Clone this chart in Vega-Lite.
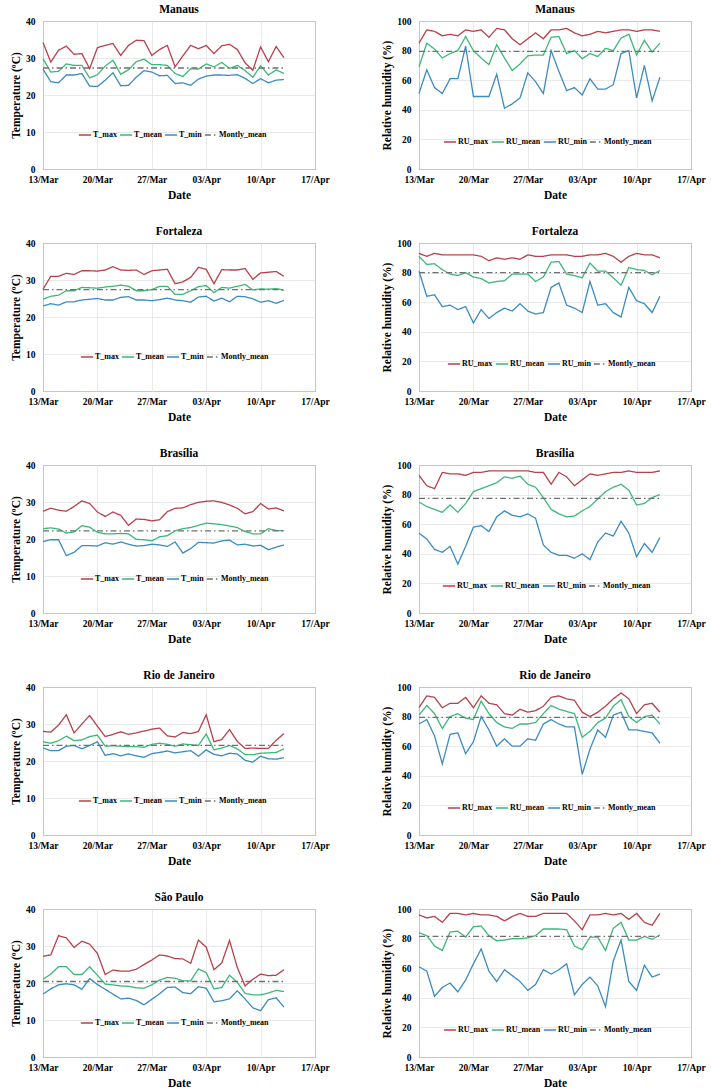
{
"$schema":"https://vega.github.io/schema/vega-lite/v6.json",
"background":"white",
"padding":{"left":10,"top":3,"right":5,"bottom":0},
"spacing":23,
"resolve":{"scale":{"color":"independent","strokeDash":"independent"}},
"datasets":{
"mT":[
{"d":0,"s":"T_max","y":34.2},{"d":1,"s":"T_max","y":28.9},{"d":2,"s":"T_max","y":32.1},{"d":3,"s":"T_max","y":33.2},{"d":4,"s":"T_max","y":31.0},{"d":5,"s":"T_max","y":31.2},{"d":6,"s":"T_max","y":27.1},{"d":7,"s":"T_max","y":32.8},{"d":8,"s":"T_max","y":33.4},{"d":9,"s":"T_max","y":33.9},{"d":10,"s":"T_max","y":30.7},{"d":11,"s":"T_max","y":33.4},{"d":12,"s":"T_max","y":34.8},{"d":13,"s":"T_max","y":34.7},{"d":14,"s":"T_max","y":30.7},{"d":15,"s":"T_max","y":32.3},{"d":16,"s":"T_max","y":33.4},{"d":17,"s":"T_max","y":27.6},{"d":18,"s":"T_max","y":30.6},{"d":19,"s":"T_max","y":33.4},{"d":20,"s":"T_max","y":32.5},{"d":21,"s":"T_max","y":33.4},{"d":22,"s":"T_max","y":31.2},{"d":23,"s":"T_max","y":33.3},{"d":24,"s":"T_max","y":33.7},{"d":25,"s":"T_max","y":32.3},{"d":26,"s":"T_max","y":28.7},{"d":27,"s":"T_max","y":26.7},{"d":28,"s":"T_max","y":33.0},{"d":29,"s":"T_max","y":29.0},{"d":30,"s":"T_max","y":33.1},{"d":31,"s":"T_max","y":30.1},
{"d":0,"s":"T_mean","y":29.8},{"d":1,"s":"T_mean","y":26.2},{"d":2,"s":"T_mean","y":26.4},{"d":3,"s":"T_mean","y":28.4},{"d":4,"s":"T_mean","y":28.0},{"d":5,"s":"T_mean","y":28.0},{"d":6,"s":"T_mean","y":24.6},{"d":7,"s":"T_mean","y":25.5},{"d":8,"s":"T_mean","y":27.8},{"d":9,"s":"T_mean","y":29.4},{"d":10,"s":"T_mean","y":25.6},{"d":11,"s":"T_mean","y":26.8},{"d":12,"s":"T_mean","y":29.0},{"d":13,"s":"T_mean","y":29.7},{"d":14,"s":"T_mean","y":28.2},{"d":15,"s":"T_mean","y":28.2},{"d":16,"s":"T_mean","y":28.0},{"d":17,"s":"T_mean","y":25.8},{"d":18,"s":"T_mean","y":25.0},{"d":19,"s":"T_mean","y":27.1},{"d":20,"s":"T_mean","y":27.0},{"d":21,"s":"T_mean","y":28.4},{"d":22,"s":"T_mean","y":27.6},{"d":23,"s":"T_mean","y":28.8},{"d":24,"s":"T_mean","y":27.2},{"d":25,"s":"T_mean","y":28.0},{"d":26,"s":"T_mean","y":26.6},{"d":27,"s":"T_mean","y":24.8},{"d":28,"s":"T_mean","y":27.9},{"d":29,"s":"T_mean","y":25.4},{"d":30,"s":"T_mean","y":26.8},{"d":31,"s":"T_mean","y":25.8},
{"d":0,"s":"T_min","y":27.0},{"d":1,"s":"T_min","y":23.6},{"d":2,"s":"T_min","y":23.3},{"d":3,"s":"T_min","y":25.4},{"d":4,"s":"T_min","y":25.4},{"d":5,"s":"T_min","y":25.8},{"d":6,"s":"T_min","y":22.4},{"d":7,"s":"T_min","y":22.3},{"d":8,"s":"T_min","y":24.0},{"d":9,"s":"T_min","y":26.0},{"d":10,"s":"T_min","y":22.5},{"d":11,"s":"T_min","y":22.6},{"d":12,"s":"T_min","y":24.8},{"d":13,"s":"T_min","y":26.6},{"d":14,"s":"T_min","y":26.2},{"d":15,"s":"T_min","y":25.2},{"d":16,"s":"T_min","y":25.3},{"d":17,"s":"T_min","y":23.1},{"d":18,"s":"T_min","y":23.3},{"d":19,"s":"T_min","y":22.6},{"d":20,"s":"T_min","y":24.3},{"d":21,"s":"T_min","y":25.1},{"d":22,"s":"T_min","y":25.4},{"d":23,"s":"T_min","y":25.4},{"d":24,"s":"T_min","y":25.3},{"d":25,"s":"T_min","y":25.5},{"d":26,"s":"T_min","y":24.5},{"d":27,"s":"T_min","y":23.1},{"d":28,"s":"T_min","y":24.4},{"d":29,"s":"T_min","y":23.3},{"d":30,"s":"T_min","y":24.0},{"d":31,"s":"T_min","y":24.2},
{"d":0,"s":"Montly_mean","y":27.3},{"d":31,"s":"Montly_mean","y":27.3}],
"mH":[
{"d":0,"s":"RU_max","y":85},{"d":1,"s":"RU_max","y":94},{"d":2,"s":"RU_max","y":93},{"d":3,"s":"RU_max","y":90},{"d":4,"s":"RU_max","y":91},{"d":5,"s":"RU_max","y":90},{"d":6,"s":"RU_max","y":94},{"d":7,"s":"RU_max","y":93},{"d":8,"s":"RU_max","y":94},{"d":9,"s":"RU_max","y":89},{"d":10,"s":"RU_max","y":95},{"d":11,"s":"RU_max","y":94},{"d":12,"s":"RU_max","y":88},{"d":13,"s":"RU_max","y":84},{"d":14,"s":"RU_max","y":88},{"d":15,"s":"RU_max","y":92},{"d":16,"s":"RU_max","y":88},{"d":17,"s":"RU_max","y":94},{"d":18,"s":"RU_max","y":94},{"d":19,"s":"RU_max","y":95},{"d":20,"s":"RU_max","y":92},{"d":21,"s":"RU_max","y":90},{"d":22,"s":"RU_max","y":91},{"d":23,"s":"RU_max","y":93},{"d":24,"s":"RU_max","y":92},{"d":25,"s":"RU_max","y":93},{"d":26,"s":"RU_max","y":94},{"d":27,"s":"RU_max","y":94},{"d":28,"s":"RU_max","y":93},{"d":29,"s":"RU_max","y":94},{"d":30,"s":"RU_max","y":94},{"d":31,"s":"RU_max","y":93},
{"d":0,"s":"RU_mean","y":69},{"d":1,"s":"RU_mean","y":85},{"d":2,"s":"RU_mean","y":81},{"d":3,"s":"RU_mean","y":75},{"d":4,"s":"RU_mean","y":78},{"d":5,"s":"RU_mean","y":80},{"d":6,"s":"RU_mean","y":89.5},{"d":7,"s":"RU_mean","y":80},{"d":8,"s":"RU_mean","y":75},{"d":9,"s":"RU_mean","y":70.5},{"d":10,"s":"RU_mean","y":84},{"d":11,"s":"RU_mean","y":75},{"d":12,"s":"RU_mean","y":66.5},{"d":13,"s":"RU_mean","y":71},{"d":14,"s":"RU_mean","y":76.5},{"d":15,"s":"RU_mean","y":77},{"d":16,"s":"RU_mean","y":77},{"d":17,"s":"RU_mean","y":89},{"d":18,"s":"RU_mean","y":89.5},{"d":19,"s":"RU_mean","y":78},{"d":20,"s":"RU_mean","y":80},{"d":21,"s":"RU_mean","y":74.5},{"d":22,"s":"RU_mean","y":78},{"d":23,"s":"RU_mean","y":76},{"d":24,"s":"RU_mean","y":81.5},{"d":25,"s":"RU_mean","y":80},{"d":26,"s":"RU_mean","y":88.5},{"d":27,"s":"RU_mean","y":91},{"d":28,"s":"RU_mean","y":77},{"d":29,"s":"RU_mean","y":87},{"d":30,"s":"RU_mean","y":79},{"d":31,"s":"RU_mean","y":85},
{"d":0,"s":"RU_min","y":51},{"d":1,"s":"RU_min","y":67},{"d":2,"s":"RU_min","y":55},{"d":3,"s":"RU_min","y":51},{"d":4,"s":"RU_min","y":61},{"d":5,"s":"RU_min","y":61},{"d":6,"s":"RU_min","y":83},{"d":7,"s":"RU_min","y":49},{"d":8,"s":"RU_min","y":49},{"d":9,"s":"RU_min","y":49},{"d":10,"s":"RU_min","y":64},{"d":11,"s":"RU_min","y":41},{"d":12,"s":"RU_min","y":44},{"d":13,"s":"RU_min","y":48},{"d":14,"s":"RU_min","y":65},{"d":15,"s":"RU_min","y":59},{"d":16,"s":"RU_min","y":51},{"d":17,"s":"RU_min","y":80},{"d":18,"s":"RU_min","y":66},{"d":19,"s":"RU_min","y":53},{"d":20,"s":"RU_min","y":55},{"d":21,"s":"RU_min","y":50},{"d":22,"s":"RU_min","y":61},{"d":23,"s":"RU_min","y":54},{"d":24,"s":"RU_min","y":54},{"d":25,"s":"RU_min","y":57},{"d":26,"s":"RU_min","y":78},{"d":27,"s":"RU_min","y":80},{"d":28,"s":"RU_min","y":48},{"d":29,"s":"RU_min","y":70},{"d":30,"s":"RU_min","y":46},{"d":31,"s":"RU_min","y":62},
{"d":0,"s":"Montly_mean","y":79.5},{"d":31,"s":"Montly_mean","y":79.5}],
"fT":[
{"d":0,"s":"T_max","y":27.5},{"d":1,"s":"T_max","y":31.0},{"d":2,"s":"T_max","y":31.0},{"d":3,"s":"T_max","y":31.8},{"d":4,"s":"T_max","y":31.5},{"d":5,"s":"T_max","y":32.5},{"d":6,"s":"T_max","y":32.5},{"d":7,"s":"T_max","y":32.4},{"d":8,"s":"T_max","y":32.7},{"d":9,"s":"T_max","y":33.6},{"d":10,"s":"T_max","y":32.7},{"d":11,"s":"T_max","y":32.6},{"d":12,"s":"T_max","y":32.7},{"d":13,"s":"T_max","y":31.5},{"d":14,"s":"T_max","y":32.5},{"d":15,"s":"T_max","y":32.7},{"d":16,"s":"T_max","y":32.9},{"d":17,"s":"T_max","y":29.0},{"d":18,"s":"T_max","y":29.5},{"d":19,"s":"T_max","y":30.7},{"d":20,"s":"T_max","y":33.4},{"d":21,"s":"T_max","y":32.9},{"d":22,"s":"T_max","y":29.0},{"d":23,"s":"T_max","y":32.8},{"d":24,"s":"T_max","y":32.7},{"d":25,"s":"T_max","y":32.7},{"d":26,"s":"T_max","y":33.1},{"d":27,"s":"T_max","y":30.2},{"d":28,"s":"T_max","y":31.9},{"d":29,"s":"T_max","y":32.1},{"d":30,"s":"T_max","y":32.3},{"d":31,"s":"T_max","y":31.0},
{"d":0,"s":"T_mean","y":24.8},{"d":1,"s":"T_mean","y":25.6},{"d":2,"s":"T_mean","y":25.9},{"d":3,"s":"T_mean","y":27.1},{"d":4,"s":"T_mean","y":27.1},{"d":5,"s":"T_mean","y":28.0},{"d":6,"s":"T_mean","y":27.9},{"d":7,"s":"T_mean","y":27.8},{"d":8,"s":"T_mean","y":28.1},{"d":9,"s":"T_mean","y":28.3},{"d":10,"s":"T_mean","y":28.6},{"d":11,"s":"T_mean","y":28.3},{"d":12,"s":"T_mean","y":27.1},{"d":13,"s":"T_mean","y":27.1},{"d":14,"s":"T_mean","y":27.4},{"d":15,"s":"T_mean","y":28.3},{"d":16,"s":"T_mean","y":28.3},{"d":17,"s":"T_mean","y":26.1},{"d":18,"s":"T_mean","y":26.1},{"d":19,"s":"T_mean","y":27.1},{"d":20,"s":"T_mean","y":28.2},{"d":21,"s":"T_mean","y":28.5},{"d":22,"s":"T_mean","y":26.6},{"d":23,"s":"T_mean","y":28.0},{"d":24,"s":"T_mean","y":27.8},{"d":25,"s":"T_mean","y":28.3},{"d":26,"s":"T_mean","y":28.8},{"d":27,"s":"T_mean","y":27.3},{"d":28,"s":"T_mean","y":27.6},{"d":29,"s":"T_mean","y":27.5},{"d":30,"s":"T_mean","y":27.7},{"d":31,"s":"T_mean","y":27.2},
{"d":0,"s":"T_min","y":23.0},{"d":1,"s":"T_min","y":23.6},{"d":2,"s":"T_min","y":23.2},{"d":3,"s":"T_min","y":24.1},{"d":4,"s":"T_min","y":24.1},{"d":5,"s":"T_min","y":24.6},{"d":6,"s":"T_min","y":24.8},{"d":7,"s":"T_min","y":25.0},{"d":8,"s":"T_min","y":24.6},{"d":9,"s":"T_min","y":24.6},{"d":10,"s":"T_min","y":25.3},{"d":11,"s":"T_min","y":25.5},{"d":12,"s":"T_min","y":24.6},{"d":13,"s":"T_min","y":24.6},{"d":14,"s":"T_min","y":24.4},{"d":15,"s":"T_min","y":24.7},{"d":16,"s":"T_min","y":25.1},{"d":17,"s":"T_min","y":24.6},{"d":18,"s":"T_min","y":24.4},{"d":19,"s":"T_min","y":24.0},{"d":20,"s":"T_min","y":25.4},{"d":21,"s":"T_min","y":25.6},{"d":22,"s":"T_min","y":24.3},{"d":23,"s":"T_min","y":25.1},{"d":24,"s":"T_min","y":24.1},{"d":25,"s":"T_min","y":25.6},{"d":26,"s":"T_min","y":25.5},{"d":27,"s":"T_min","y":24.9},{"d":28,"s":"T_min","y":24.0},{"d":29,"s":"T_min","y":24.4},{"d":30,"s":"T_min","y":23.7},{"d":31,"s":"T_min","y":24.5},
{"d":0,"s":"Montly_mean","y":27.4},{"d":31,"s":"Montly_mean","y":27.4}],
"fH":[
{"d":0,"s":"RU_max","y":93},{"d":1,"s":"RU_max","y":91},{"d":2,"s":"RU_max","y":93},{"d":3,"s":"RU_max","y":92},{"d":4,"s":"RU_max","y":92},{"d":5,"s":"RU_max","y":92},{"d":6,"s":"RU_max","y":92},{"d":7,"s":"RU_max","y":92},{"d":8,"s":"RU_max","y":91},{"d":9,"s":"RU_max","y":88},{"d":10,"s":"RU_max","y":90},{"d":11,"s":"RU_max","y":89},{"d":12,"s":"RU_max","y":90},{"d":13,"s":"RU_max","y":89},{"d":14,"s":"RU_max","y":92},{"d":15,"s":"RU_max","y":91},{"d":16,"s":"RU_max","y":91},{"d":17,"s":"RU_max","y":92},{"d":18,"s":"RU_max","y":92},{"d":19,"s":"RU_max","y":92},{"d":20,"s":"RU_max","y":91},{"d":21,"s":"RU_max","y":91},{"d":22,"s":"RU_max","y":92},{"d":23,"s":"RU_max","y":92},{"d":24,"s":"RU_max","y":93},{"d":25,"s":"RU_max","y":91},{"d":26,"s":"RU_max","y":87},{"d":27,"s":"RU_max","y":91},{"d":28,"s":"RU_max","y":93},{"d":29,"s":"RU_max","y":92},{"d":30,"s":"RU_max","y":92},{"d":31,"s":"RU_max","y":90},
{"d":0,"s":"RU_mean","y":91},{"d":1,"s":"RU_mean","y":85.5},{"d":2,"s":"RU_mean","y":86},{"d":3,"s":"RU_mean","y":82},{"d":4,"s":"RU_mean","y":79},{"d":5,"s":"RU_mean","y":78},{"d":6,"s":"RU_mean","y":80},{"d":7,"s":"RU_mean","y":77},{"d":8,"s":"RU_mean","y":76},{"d":9,"s":"RU_mean","y":73},{"d":10,"s":"RU_mean","y":74},{"d":11,"s":"RU_mean","y":74.5},{"d":12,"s":"RU_mean","y":79},{"d":13,"s":"RU_mean","y":79},{"d":14,"s":"RU_mean","y":79},{"d":15,"s":"RU_mean","y":74},{"d":16,"s":"RU_mean","y":77},{"d":17,"s":"RU_mean","y":87},{"d":18,"s":"RU_mean","y":87.5},{"d":19,"s":"RU_mean","y":79},{"d":20,"s":"RU_mean","y":78},{"d":21,"s":"RU_mean","y":76.5},{"d":22,"s":"RU_mean","y":86.5},{"d":23,"s":"RU_mean","y":81},{"d":24,"s":"RU_mean","y":81},{"d":25,"s":"RU_mean","y":76.5},{"d":26,"s":"RU_mean","y":71.5},{"d":27,"s":"RU_mean","y":83.5},{"d":28,"s":"RU_mean","y":82},{"d":29,"s":"RU_mean","y":81.5},{"d":30,"s":"RU_mean","y":78.5},{"d":31,"s":"RU_mean","y":81.5},
{"d":0,"s":"RU_min","y":81},{"d":1,"s":"RU_min","y":64},{"d":2,"s":"RU_min","y":65},{"d":3,"s":"RU_min","y":57},{"d":4,"s":"RU_min","y":58},{"d":5,"s":"RU_min","y":55},{"d":6,"s":"RU_min","y":57},{"d":7,"s":"RU_min","y":46},{"d":8,"s":"RU_min","y":55},{"d":9,"s":"RU_min","y":49},{"d":10,"s":"RU_min","y":53},{"d":11,"s":"RU_min","y":56},{"d":12,"s":"RU_min","y":54},{"d":13,"s":"RU_min","y":59},{"d":14,"s":"RU_min","y":54},{"d":15,"s":"RU_min","y":52},{"d":16,"s":"RU_min","y":53},{"d":17,"s":"RU_min","y":70},{"d":18,"s":"RU_min","y":73},{"d":19,"s":"RU_min","y":58},{"d":20,"s":"RU_min","y":56},{"d":21,"s":"RU_min","y":53},{"d":22,"s":"RU_min","y":74},{"d":23,"s":"RU_min","y":58},{"d":24,"s":"RU_min","y":59},{"d":25,"s":"RU_min","y":53},{"d":26,"s":"RU_min","y":50},{"d":27,"s":"RU_min","y":70},{"d":28,"s":"RU_min","y":61},{"d":29,"s":"RU_min","y":59},{"d":30,"s":"RU_min","y":53},{"d":31,"s":"RU_min","y":64},
{"d":0,"s":"Montly_mean","y":80},{"d":31,"s":"Montly_mean","y":80}],
"bT":[
{"d":0,"s":"T_max","y":27.5},{"d":1,"s":"T_max","y":28.3},{"d":2,"s":"T_max","y":27.8},{"d":3,"s":"T_max","y":27.5},{"d":4,"s":"T_max","y":28.8},{"d":5,"s":"T_max","y":30.3},{"d":6,"s":"T_max","y":29.6},{"d":7,"s":"T_max","y":27.3},{"d":8,"s":"T_max","y":26.1},{"d":9,"s":"T_max","y":27.3},{"d":10,"s":"T_max","y":26.4},{"d":11,"s":"T_max","y":23.7},{"d":12,"s":"T_max","y":25.4},{"d":13,"s":"T_max","y":25.3},{"d":14,"s":"T_max","y":24.9},{"d":15,"s":"T_max","y":25.2},{"d":16,"s":"T_max","y":27.4},{"d":17,"s":"T_max","y":28.3},{"d":18,"s":"T_max","y":28.4},{"d":19,"s":"T_max","y":29.3},{"d":20,"s":"T_max","y":29.9},{"d":21,"s":"T_max","y":30.2},{"d":22,"s":"T_max","y":30.3},{"d":23,"s":"T_max","y":29.9},{"d":24,"s":"T_max","y":29.2},{"d":25,"s":"T_max","y":28.3},{"d":26,"s":"T_max","y":26.8},{"d":27,"s":"T_max","y":27.4},{"d":28,"s":"T_max","y":29.6},{"d":29,"s":"T_max","y":28.1},{"d":30,"s":"T_max","y":28.4},{"d":31,"s":"T_max","y":27.6},
{"d":0,"s":"T_mean","y":22.8},{"d":1,"s":"T_mean","y":23.0},{"d":2,"s":"T_mean","y":22.7},{"d":3,"s":"T_mean","y":21.6},{"d":4,"s":"T_mean","y":21.9},{"d":5,"s":"T_mean","y":23.6},{"d":6,"s":"T_mean","y":23.2},{"d":7,"s":"T_mean","y":21.8},{"d":8,"s":"T_mean","y":21.4},{"d":9,"s":"T_mean","y":21.4},{"d":10,"s":"T_mean","y":21.5},{"d":11,"s":"T_mean","y":21.4},{"d":12,"s":"T_mean","y":19.9},{"d":13,"s":"T_mean","y":19.8},{"d":14,"s":"T_mean","y":19.5},{"d":15,"s":"T_mean","y":20.6},{"d":16,"s":"T_mean","y":20.9},{"d":17,"s":"T_mean","y":22.2},{"d":18,"s":"T_mean","y":22.8},{"d":19,"s":"T_mean","y":23.1},{"d":20,"s":"T_mean","y":23.7},{"d":21,"s":"T_mean","y":24.3},{"d":22,"s":"T_mean","y":24.1},{"d":23,"s":"T_mean","y":23.9},{"d":24,"s":"T_mean","y":23.5},{"d":25,"s":"T_mean","y":23.1},{"d":26,"s":"T_mean","y":22.0},{"d":27,"s":"T_mean","y":21.4},{"d":28,"s":"T_mean","y":21.4},{"d":29,"s":"T_mean","y":22.8},{"d":30,"s":"T_mean","y":22.3},{"d":31,"s":"T_mean","y":22.2},
{"d":0,"s":"T_min","y":19.3},{"d":1,"s":"T_min","y":19.8},{"d":2,"s":"T_min","y":19.8},{"d":3,"s":"T_min","y":15.5},{"d":4,"s":"T_min","y":16.4},{"d":5,"s":"T_min","y":18.2},{"d":6,"s":"T_min","y":18.2},{"d":7,"s":"T_min","y":18.1},{"d":8,"s":"T_min","y":19.0},{"d":9,"s":"T_min","y":18.6},{"d":10,"s":"T_min","y":19.2},{"d":11,"s":"T_min","y":18.6},{"d":12,"s":"T_min","y":18.1},{"d":13,"s":"T_min","y":18.2},{"d":14,"s":"T_min","y":18.6},{"d":15,"s":"T_min","y":18.4},{"d":16,"s":"T_min","y":18.0},{"d":17,"s":"T_min","y":19.2},{"d":18,"s":"T_min","y":16.2},{"d":19,"s":"T_min","y":17.4},{"d":20,"s":"T_min","y":19.1},{"d":21,"s":"T_min","y":19.0},{"d":22,"s":"T_min","y":18.9},{"d":23,"s":"T_min","y":19.5},{"d":24,"s":"T_min","y":19.7},{"d":25,"s":"T_min","y":18.4},{"d":26,"s":"T_min","y":18.6},{"d":27,"s":"T_min","y":18.1},{"d":28,"s":"T_min","y":18.3},{"d":29,"s":"T_min","y":17.1},{"d":30,"s":"T_min","y":17.8},{"d":31,"s":"T_min","y":18.4},
{"d":0,"s":"Montly_mean","y":22.2},{"d":31,"s":"Montly_mean","y":22.2}],
"bH":[
{"d":0,"s":"RU_max","y":93},{"d":1,"s":"RU_max","y":86},{"d":2,"s":"RU_max","y":84},{"d":3,"s":"RU_max","y":95},{"d":4,"s":"RU_max","y":94},{"d":5,"s":"RU_max","y":94},{"d":6,"s":"RU_max","y":93},{"d":7,"s":"RU_max","y":95},{"d":8,"s":"RU_max","y":95},{"d":9,"s":"RU_max","y":96},{"d":10,"s":"RU_max","y":96},{"d":11,"s":"RU_max","y":96},{"d":12,"s":"RU_max","y":96},{"d":13,"s":"RU_max","y":96},{"d":14,"s":"RU_max","y":96},{"d":15,"s":"RU_max","y":95},{"d":16,"s":"RU_max","y":95},{"d":17,"s":"RU_max","y":87},{"d":18,"s":"RU_max","y":95},{"d":19,"s":"RU_max","y":92},{"d":20,"s":"RU_max","y":86},{"d":21,"s":"RU_max","y":90},{"d":22,"s":"RU_max","y":94},{"d":23,"s":"RU_max","y":93},{"d":24,"s":"RU_max","y":94},{"d":25,"s":"RU_max","y":95},{"d":26,"s":"RU_max","y":95},{"d":27,"s":"RU_max","y":96},{"d":28,"s":"RU_max","y":95},{"d":29,"s":"RU_max","y":95},{"d":30,"s":"RU_max","y":95},{"d":31,"s":"RU_max","y":96},
{"d":0,"s":"RU_mean","y":75},{"d":1,"s":"RU_mean","y":72},{"d":2,"s":"RU_mean","y":70},{"d":3,"s":"RU_mean","y":68},{"d":4,"s":"RU_mean","y":73},{"d":5,"s":"RU_mean","y":68},{"d":6,"s":"RU_mean","y":74},{"d":7,"s":"RU_mean","y":82},{"d":8,"s":"RU_mean","y":84},{"d":9,"s":"RU_mean","y":86},{"d":10,"s":"RU_mean","y":88},{"d":11,"s":"RU_mean","y":92},{"d":12,"s":"RU_mean","y":91},{"d":13,"s":"RU_mean","y":92.5},{"d":14,"s":"RU_mean","y":87},{"d":15,"s":"RU_mean","y":85},{"d":16,"s":"RU_mean","y":78},{"d":17,"s":"RU_mean","y":70},{"d":18,"s":"RU_mean","y":67},{"d":19,"s":"RU_mean","y":65},{"d":20,"s":"RU_mean","y":65.5},{"d":21,"s":"RU_mean","y":69},{"d":22,"s":"RU_mean","y":72},{"d":23,"s":"RU_mean","y":77},{"d":24,"s":"RU_mean","y":82},{"d":25,"s":"RU_mean","y":85},{"d":26,"s":"RU_mean","y":87},{"d":27,"s":"RU_mean","y":83},{"d":28,"s":"RU_mean","y":73},{"d":29,"s":"RU_mean","y":74},{"d":30,"s":"RU_mean","y":78},{"d":31,"s":"RU_mean","y":80},
{"d":0,"s":"RU_min","y":54},{"d":1,"s":"RU_min","y":50},{"d":2,"s":"RU_min","y":43},{"d":3,"s":"RU_min","y":41},{"d":4,"s":"RU_min","y":45},{"d":5,"s":"RU_min","y":33},{"d":6,"s":"RU_min","y":45},{"d":7,"s":"RU_min","y":58},{"d":8,"s":"RU_min","y":59},{"d":9,"s":"RU_min","y":55},{"d":10,"s":"RU_min","y":65},{"d":11,"s":"RU_min","y":69},{"d":12,"s":"RU_min","y":66},{"d":13,"s":"RU_min","y":65},{"d":14,"s":"RU_min","y":67},{"d":15,"s":"RU_min","y":64},{"d":16,"s":"RU_min","y":46},{"d":17,"s":"RU_min","y":41},{"d":18,"s":"RU_min","y":39},{"d":19,"s":"RU_min","y":39},{"d":20,"s":"RU_min","y":37},{"d":21,"s":"RU_min","y":40},{"d":22,"s":"RU_min","y":36},{"d":23,"s":"RU_min","y":48},{"d":24,"s":"RU_min","y":54},{"d":25,"s":"RU_min","y":52},{"d":26,"s":"RU_min","y":62},{"d":27,"s":"RU_min","y":54},{"d":28,"s":"RU_min","y":38},{"d":29,"s":"RU_min","y":47},{"d":30,"s":"RU_min","y":41},{"d":31,"s":"RU_min","y":51},
{"d":0,"s":"Montly_mean","y":77.5},{"d":31,"s":"Montly_mean","y":77.5}],
"rT":[
{"d":0,"s":"T_max","y":28.0},{"d":1,"s":"T_max","y":27.8},{"d":2,"s":"T_max","y":29.7},{"d":3,"s":"T_max","y":32.5},{"d":4,"s":"T_max","y":27.6},{"d":5,"s":"T_max","y":30.0},{"d":6,"s":"T_max","y":32.3},{"d":7,"s":"T_max","y":29.4},{"d":8,"s":"T_max","y":26.6},{"d":9,"s":"T_max","y":27.2},{"d":10,"s":"T_max","y":27.9},{"d":11,"s":"T_max","y":27.2},{"d":12,"s":"T_max","y":27.6},{"d":13,"s":"T_max","y":28.1},{"d":14,"s":"T_max","y":28.6},{"d":15,"s":"T_max","y":28.9},{"d":16,"s":"T_max","y":26.8},{"d":17,"s":"T_max","y":26.5},{"d":18,"s":"T_max","y":27.7},{"d":19,"s":"T_max","y":27.4},{"d":20,"s":"T_max","y":28.0},{"d":21,"s":"T_max","y":32.5},{"d":22,"s":"T_max","y":25.2},{"d":23,"s":"T_max","y":25.8},{"d":24,"s":"T_max","y":28.5},{"d":25,"s":"T_max","y":25.3},{"d":26,"s":"T_max","y":23.4},{"d":27,"s":"T_max","y":23.5},{"d":28,"s":"T_max","y":23.4},{"d":29,"s":"T_max","y":23.4},{"d":30,"s":"T_max","y":25.6},{"d":31,"s":"T_max","y":27.4},
{"d":0,"s":"T_mean","y":25.2},{"d":1,"s":"T_mean","y":24.8},{"d":2,"s":"T_mean","y":25.5},{"d":3,"s":"T_mean","y":26.7},{"d":4,"s":"T_mean","y":25.5},{"d":5,"s":"T_mean","y":25.7},{"d":6,"s":"T_mean","y":26.6},{"d":7,"s":"T_mean","y":27.0},{"d":8,"s":"T_mean","y":24.0},{"d":9,"s":"T_mean","y":24.1},{"d":10,"s":"T_mean","y":24.0},{"d":11,"s":"T_mean","y":23.9},{"d":12,"s":"T_mean","y":23.9},{"d":13,"s":"T_mean","y":23.7},{"d":14,"s":"T_mean","y":24.5},{"d":15,"s":"T_mean","y":24.8},{"d":16,"s":"T_mean","y":24.5},{"d":17,"s":"T_mean","y":24.0},{"d":18,"s":"T_mean","y":24.6},{"d":19,"s":"T_mean","y":24.4},{"d":20,"s":"T_mean","y":24.2},{"d":21,"s":"T_mean","y":27.3},{"d":22,"s":"T_mean","y":23.0},{"d":23,"s":"T_mean","y":23.5},{"d":24,"s":"T_mean","y":24.2},{"d":25,"s":"T_mean","y":23.3},{"d":26,"s":"T_mean","y":21.7},{"d":27,"s":"T_mean","y":21.7},{"d":28,"s":"T_mean","y":22.1},{"d":29,"s":"T_mean","y":22.2},{"d":30,"s":"T_mean","y":22.3},{"d":31,"s":"T_mean","y":23.3},
{"d":0,"s":"T_min","y":23.5},{"d":1,"s":"T_min","y":22.8},{"d":2,"s":"T_min","y":22.8},{"d":3,"s":"T_min","y":24.0},{"d":4,"s":"T_min","y":24.2},{"d":5,"s":"T_min","y":23.3},{"d":6,"s":"T_min","y":24.2},{"d":7,"s":"T_min","y":25.2},{"d":8,"s":"T_min","y":21.5},{"d":9,"s":"T_min","y":22.0},{"d":10,"s":"T_min","y":21.4},{"d":11,"s":"T_min","y":21.9},{"d":12,"s":"T_min","y":21.4},{"d":13,"s":"T_min","y":21.0},{"d":14,"s":"T_min","y":22.0},{"d":15,"s":"T_min","y":22.3},{"d":16,"s":"T_min","y":22.7},{"d":17,"s":"T_min","y":22.2},{"d":18,"s":"T_min","y":22.5},{"d":19,"s":"T_min","y":22.8},{"d":20,"s":"T_min","y":21.3},{"d":21,"s":"T_min","y":23.0},{"d":22,"s":"T_min","y":21.8},{"d":23,"s":"T_min","y":21.4},{"d":24,"s":"T_min","y":22.1},{"d":25,"s":"T_min","y":21.9},{"d":26,"s":"T_min","y":20.2},{"d":27,"s":"T_min","y":19.7},{"d":28,"s":"T_min","y":21.3},{"d":29,"s":"T_min","y":20.6},{"d":30,"s":"T_min","y":20.5},{"d":31,"s":"T_min","y":20.9},
{"d":0,"s":"Montly_mean","y":24.2},{"d":31,"s":"Montly_mean","y":24.2}],
"rH":[
{"d":0,"s":"RU_max","y":86},{"d":1,"s":"RU_max","y":94},{"d":2,"s":"RU_max","y":93},{"d":3,"s":"RU_max","y":86},{"d":4,"s":"RU_max","y":89},{"d":5,"s":"RU_max","y":89},{"d":6,"s":"RU_max","y":93},{"d":7,"s":"RU_max","y":86},{"d":8,"s":"RU_max","y":94},{"d":9,"s":"RU_max","y":89},{"d":10,"s":"RU_max","y":88},{"d":11,"s":"RU_max","y":82},{"d":12,"s":"RU_max","y":81},{"d":13,"s":"RU_max","y":85},{"d":14,"s":"RU_max","y":83},{"d":15,"s":"RU_max","y":84},{"d":16,"s":"RU_max","y":87},{"d":17,"s":"RU_max","y":93},{"d":18,"s":"RU_max","y":94},{"d":19,"s":"RU_max","y":92},{"d":20,"s":"RU_max","y":91},{"d":21,"s":"RU_max","y":83},{"d":22,"s":"RU_max","y":80},{"d":23,"s":"RU_max","y":83},{"d":24,"s":"RU_max","y":87},{"d":25,"s":"RU_max","y":92},{"d":26,"s":"RU_max","y":96},{"d":27,"s":"RU_max","y":92},{"d":28,"s":"RU_max","y":82},{"d":29,"s":"RU_max","y":88},{"d":30,"s":"RU_max","y":89},{"d":31,"s":"RU_max","y":83},
{"d":0,"s":"RU_mean","y":81},{"d":1,"s":"RU_mean","y":87.5},{"d":2,"s":"RU_mean","y":82},{"d":3,"s":"RU_mean","y":72},{"d":4,"s":"RU_mean","y":80},{"d":5,"s":"RU_mean","y":82},{"d":6,"s":"RU_mean","y":79},{"d":7,"s":"RU_mean","y":78},{"d":8,"s":"RU_mean","y":90.5},{"d":9,"s":"RU_mean","y":82},{"d":10,"s":"RU_mean","y":76},{"d":11,"s":"RU_mean","y":73},{"d":12,"s":"RU_mean","y":72},{"d":13,"s":"RU_mean","y":75},{"d":14,"s":"RU_mean","y":75},{"d":15,"s":"RU_mean","y":76},{"d":16,"s":"RU_mean","y":82},{"d":17,"s":"RU_mean","y":87.5},{"d":18,"s":"RU_mean","y":85},{"d":19,"s":"RU_mean","y":83.5},{"d":20,"s":"RU_mean","y":82},{"d":21,"s":"RU_mean","y":66},{"d":22,"s":"RU_mean","y":70},{"d":23,"s":"RU_mean","y":76},{"d":24,"s":"RU_mean","y":79},{"d":25,"s":"RU_mean","y":87},{"d":26,"s":"RU_mean","y":91.5},{"d":27,"s":"RU_mean","y":80},{"d":28,"s":"RU_mean","y":76},{"d":29,"s":"RU_mean","y":80},{"d":30,"s":"RU_mean","y":81},{"d":31,"s":"RU_mean","y":75},
{"d":0,"s":"RU_min","y":75},{"d":1,"s":"RU_min","y":78},{"d":2,"s":"RU_min","y":67},{"d":3,"s":"RU_min","y":48},{"d":4,"s":"RU_min","y":68},{"d":5,"s":"RU_min","y":69},{"d":6,"s":"RU_min","y":55},{"d":7,"s":"RU_min","y":63},{"d":8,"s":"RU_min","y":80},{"d":9,"s":"RU_min","y":71},{"d":10,"s":"RU_min","y":60},{"d":11,"s":"RU_min","y":65},{"d":12,"s":"RU_min","y":60},{"d":13,"s":"RU_min","y":60},{"d":14,"s":"RU_min","y":65},{"d":15,"s":"RU_min","y":64},{"d":16,"s":"RU_min","y":75},{"d":17,"s":"RU_min","y":78},{"d":18,"s":"RU_min","y":75},{"d":19,"s":"RU_min","y":73},{"d":20,"s":"RU_min","y":73},{"d":21,"s":"RU_min","y":41},{"d":22,"s":"RU_min","y":58},{"d":23,"s":"RU_min","y":71},{"d":24,"s":"RU_min","y":66},{"d":25,"s":"RU_min","y":81},{"d":26,"s":"RU_min","y":83},{"d":27,"s":"RU_min","y":71},{"d":28,"s":"RU_min","y":71},{"d":29,"s":"RU_min","y":70},{"d":30,"s":"RU_min","y":69},{"d":31,"s":"RU_min","y":62},
{"d":0,"s":"Montly_mean","y":79.5},{"d":31,"s":"Montly_mean","y":79.5}],
"sT":[
{"d":0,"s":"T_max","y":27.2},{"d":1,"s":"T_max","y":27.6},{"d":2,"s":"T_max","y":32.8},{"d":3,"s":"T_max","y":32.2},{"d":4,"s":"T_max","y":29.6},{"d":5,"s":"T_max","y":31.3},{"d":6,"s":"T_max","y":30.5},{"d":7,"s":"T_max","y":28.0},{"d":8,"s":"T_max","y":22.3},{"d":9,"s":"T_max","y":23.5},{"d":10,"s":"T_max","y":23.2},{"d":11,"s":"T_max","y":23.2},{"d":12,"s":"T_max","y":23.7},{"d":13,"s":"T_max","y":25.0},{"d":14,"s":"T_max","y":26.2},{"d":15,"s":"T_max","y":27.6},{"d":16,"s":"T_max","y":27.3},{"d":17,"s":"T_max","y":26.6},{"d":18,"s":"T_max","y":26.5},{"d":19,"s":"T_max","y":25.3},{"d":20,"s":"T_max","y":31.6},{"d":21,"s":"T_max","y":29.7},{"d":22,"s":"T_max","y":23.6},{"d":23,"s":"T_max","y":25.4},{"d":24,"s":"T_max","y":31.5},{"d":25,"s":"T_max","y":24.2},{"d":26,"s":"T_max","y":19.2},{"d":27,"s":"T_max","y":21.0},{"d":28,"s":"T_max","y":22.4},{"d":29,"s":"T_max","y":22.0},{"d":30,"s":"T_max","y":22.1},{"d":31,"s":"T_max","y":23.6},
{"d":0,"s":"T_mean","y":21.0},{"d":1,"s":"T_mean","y":22.4},{"d":2,"s":"T_mean","y":24.4},{"d":3,"s":"T_mean","y":24.4},{"d":4,"s":"T_mean","y":22.3},{"d":5,"s":"T_mean","y":22.3},{"d":6,"s":"T_mean","y":24.4},{"d":7,"s":"T_mean","y":22.1},{"d":8,"s":"T_mean","y":19.7},{"d":9,"s":"T_mean","y":19.5},{"d":10,"s":"T_mean","y":19.2},{"d":11,"s":"T_mean","y":19.1},{"d":12,"s":"T_mean","y":18.7},{"d":13,"s":"T_mean","y":18.6},{"d":14,"s":"T_mean","y":19.5},{"d":15,"s":"T_mean","y":20.8},{"d":16,"s":"T_mean","y":21.5},{"d":17,"s":"T_mean","y":21.3},{"d":18,"s":"T_mean","y":20.6},{"d":19,"s":"T_mean","y":20.6},{"d":20,"s":"T_mean","y":23.8},{"d":21,"s":"T_mean","y":22.8},{"d":22,"s":"T_mean","y":18.4},{"d":23,"s":"T_mean","y":18.8},{"d":24,"s":"T_mean","y":22.1},{"d":25,"s":"T_mean","y":20.2},{"d":26,"s":"T_mean","y":17.2},{"d":27,"s":"T_mean","y":16.8},{"d":28,"s":"T_mean","y":16.8},{"d":29,"s":"T_mean","y":17.3},{"d":30,"s":"T_mean","y":18.0},{"d":31,"s":"T_mean","y":17.7},
{"d":0,"s":"T_min","y":17.0},{"d":1,"s":"T_min","y":18.4},{"d":2,"s":"T_min","y":19.5},{"d":3,"s":"T_min","y":19.8},{"d":4,"s":"T_min","y":19.5},{"d":5,"s":"T_min","y":18.3},{"d":6,"s":"T_min","y":21.2},{"d":7,"s":"T_min","y":19.6},{"d":8,"s":"T_min","y":18.3},{"d":9,"s":"T_min","y":17.0},{"d":10,"s":"T_min","y":15.7},{"d":11,"s":"T_min","y":15.9},{"d":12,"s":"T_min","y":15.3},{"d":13,"s":"T_min","y":14.1},{"d":14,"s":"T_min","y":15.6},{"d":15,"s":"T_min","y":17.1},{"d":16,"s":"T_min","y":18.8},{"d":17,"s":"T_min","y":18.9},{"d":18,"s":"T_min","y":17.4},{"d":19,"s":"T_min","y":17.1},{"d":20,"s":"T_min","y":19.0},{"d":21,"s":"T_min","y":18.6},{"d":22,"s":"T_min","y":14.9},{"d":23,"s":"T_min","y":15.2},{"d":24,"s":"T_min","y":15.7},{"d":25,"s":"T_min","y":17.9},{"d":26,"s":"T_min","y":15.7},{"d":27,"s":"T_min","y":13.3},{"d":28,"s":"T_min","y":12.5},{"d":29,"s":"T_min","y":15.5},{"d":30,"s":"T_min","y":16.0},{"d":31,"s":"T_min","y":13.5},
{"d":0,"s":"Montly_mean","y":20.4},{"d":31,"s":"Montly_mean","y":20.4}],
"sH":[
{"d":0,"s":"RU_max","y":96},{"d":1,"s":"RU_max","y":94},{"d":2,"s":"RU_max","y":95},{"d":3,"s":"RU_max","y":91},{"d":4,"s":"RU_max","y":97},{"d":5,"s":"RU_max","y":97},{"d":6,"s":"RU_max","y":96},{"d":7,"s":"RU_max","y":97},{"d":8,"s":"RU_max","y":96},{"d":9,"s":"RU_max","y":96},{"d":10,"s":"RU_max","y":95},{"d":11,"s":"RU_max","y":92},{"d":12,"s":"RU_max","y":95},{"d":13,"s":"RU_max","y":97},{"d":14,"s":"RU_max","y":95},{"d":15,"s":"RU_max","y":95},{"d":16,"s":"RU_max","y":97},{"d":17,"s":"RU_max","y":97},{"d":18,"s":"RU_max","y":97},{"d":19,"s":"RU_max","y":97},{"d":20,"s":"RU_max","y":92},{"d":21,"s":"RU_max","y":86},{"d":22,"s":"RU_max","y":96},{"d":23,"s":"RU_max","y":96},{"d":24,"s":"RU_max","y":97},{"d":25,"s":"RU_max","y":96},{"d":26,"s":"RU_max","y":97},{"d":27,"s":"RU_max","y":93},{"d":28,"s":"RU_max","y":97},{"d":29,"s":"RU_max","y":91},{"d":30,"s":"RU_max","y":89},{"d":31,"s":"RU_max","y":97},
{"d":0,"s":"RU_mean","y":84},{"d":1,"s":"RU_mean","y":82},{"d":2,"s":"RU_mean","y":75},{"d":3,"s":"RU_mean","y":72},{"d":4,"s":"RU_mean","y":84.5},{"d":5,"s":"RU_mean","y":85},{"d":6,"s":"RU_mean","y":81},{"d":7,"s":"RU_mean","y":88},{"d":8,"s":"RU_mean","y":88.5},{"d":9,"s":"RU_mean","y":82},{"d":10,"s":"RU_mean","y":78.5},{"d":11,"s":"RU_mean","y":79},{"d":12,"s":"RU_mean","y":80},{"d":13,"s":"RU_mean","y":80},{"d":14,"s":"RU_mean","y":80.5},{"d":15,"s":"RU_mean","y":82},{"d":16,"s":"RU_mean","y":86.5},{"d":17,"s":"RU_mean","y":86.5},{"d":18,"s":"RU_mean","y":86.5},{"d":19,"s":"RU_mean","y":86},{"d":20,"s":"RU_mean","y":75},{"d":21,"s":"RU_mean","y":72.5},{"d":22,"s":"RU_mean","y":81},{"d":23,"s":"RU_mean","y":81},{"d":24,"s":"RU_mean","y":72},{"d":25,"s":"RU_mean","y":87},{"d":26,"s":"RU_mean","y":91},{"d":27,"s":"RU_mean","y":79},{"d":28,"s":"RU_mean","y":79},{"d":29,"s":"RU_mean","y":81.5},{"d":30,"s":"RU_mean","y":79.5},{"d":31,"s":"RU_mean","y":82.5},
{"d":0,"s":"RU_min","y":61},{"d":1,"s":"RU_min","y":58},{"d":2,"s":"RU_min","y":41},{"d":3,"s":"RU_min","y":47},{"d":4,"s":"RU_min","y":50},{"d":5,"s":"RU_min","y":44},{"d":6,"s":"RU_min","y":52},{"d":7,"s":"RU_min","y":63},{"d":8,"s":"RU_min","y":73},{"d":9,"s":"RU_min","y":58},{"d":10,"s":"RU_min","y":51},{"d":11,"s":"RU_min","y":59},{"d":12,"s":"RU_min","y":55},{"d":13,"s":"RU_min","y":51},{"d":14,"s":"RU_min","y":45},{"d":15,"s":"RU_min","y":49},{"d":16,"s":"RU_min","y":59},{"d":17,"s":"RU_min","y":56},{"d":18,"s":"RU_min","y":59},{"d":19,"s":"RU_min","y":63},{"d":20,"s":"RU_min","y":42},{"d":21,"s":"RU_min","y":49},{"d":22,"s":"RU_min","y":54},{"d":23,"s":"RU_min","y":48},{"d":24,"s":"RU_min","y":34},{"d":25,"s":"RU_min","y":65},{"d":26,"s":"RU_min","y":79},{"d":27,"s":"RU_min","y":51},{"d":28,"s":"RU_min","y":45},{"d":29,"s":"RU_min","y":62},{"d":30,"s":"RU_min","y":54},{"d":31,"s":"RU_min","y":56},
{"d":0,"s":"Montly_mean","y":81.5},{"d":31,"s":"Montly_mean","y":81.5}]
},
"vconcat":[
{"hconcat":[
{"width":272,"height":148,"title":"Manaus","data":{"name":"mT"},"mark":{"type":"line"},
"encoding":{"x":{"field":"d","type":"quantitative","scale":{"domain":[0,35]},"axis":{"title":"Date","values":[0,7,14,21,28,35],"labelExpr":"timeFormat(datetime(2020,2,13+datum.value),'%d/%b')"}},
"y":{"field":"y","type":"quantitative","scale":{"domain":[0,40]},"axis":{"title":"Temperature (ºC)","values":[0,10,20,30,40]}},
"color":{"field":"s","type":"nominal","scale":{"domain":["T_max","T_mean","T_min","Montly_mean"],"range":["#b8404a","#3cb77a","#3a8cc0","#6f6f6f"]},"legend":{"title":null,"legendX":35,"legendY":107}},
"strokeDash":{"field":"s","type":"nominal","scale":{"domain":["T_max","T_mean","T_min","Montly_mean"],"range":[[1,0],[1,0],[1,0],[6,3,1.5,3]]},"legend":{"title":null,"legendX":35,"legendY":107}}}},
{"width":272,"height":148,"title":"Manaus","data":{"name":"mH"},"mark":{"type":"line"},
"encoding":{"x":{"field":"d","type":"quantitative","scale":{"domain":[0,35]},"axis":{"title":"Date","values":[0,7,14,21,28,35],"labelExpr":"timeFormat(datetime(2020,2,13+datum.value),'%d/%b')"}},
"y":{"field":"y","type":"quantitative","scale":{"domain":[0,100]},"axis":{"title":"Relative humidity (%)","values":[0,20,40,60,80,100]}},
"color":{"field":"s","type":"nominal","scale":{"domain":["RU_max","RU_mean","RU_min","Montly_mean"],"range":["#b8404a","#3cb77a","#3a8cc0","#6f6f6f"]},"legend":{"title":null,"legendX":24,"legendY":114}},
"strokeDash":{"field":"s","type":"nominal","scale":{"domain":["RU_max","RU_mean","RU_min","Montly_mean"],"range":[[1,0],[1,0],[1,0],[6,3,1.5,3]]},"legend":{"title":null,"legendX":24,"legendY":114}}}}
],"spacing":51,"resolve":{"scale":{"color":"independent","strokeDash":"independent"}}},
{"hconcat":[
{"width":272,"height":148,"title":"Fortaleza","data":{"name":"fT"},"mark":{"type":"line"},
"encoding":{"x":{"field":"d","type":"quantitative","scale":{"domain":[0,35]},"axis":{"title":"Date","values":[0,7,14,21,28,35],"labelExpr":"timeFormat(datetime(2020,2,13+datum.value),'%d/%b')"}},
"y":{"field":"y","type":"quantitative","scale":{"domain":[0,40]},"axis":{"title":"Temperature (ºC)","values":[0,10,20,30,40]}},
"color":{"field":"s","type":"nominal","scale":{"domain":["T_max","T_mean","T_min","Montly_mean"],"range":["#b8404a","#3cb77a","#3a8cc0","#6f6f6f"]},"legend":{"title":null,"legendX":37,"legendY":107}},
"strokeDash":{"field":"s","type":"nominal","scale":{"domain":["T_max","T_mean","T_min","Montly_mean"],"range":[[1,0],[1,0],[1,0],[6,3,1.5,3]]},"legend":{"title":null,"legendX":37,"legendY":107}}}},
{"width":272,"height":148,"title":"Fortaleza","data":{"name":"fH"},"mark":{"type":"line"},
"encoding":{"x":{"field":"d","type":"quantitative","scale":{"domain":[0,35]},"axis":{"title":"Date","values":[0,7,14,21,28,35],"labelExpr":"timeFormat(datetime(2020,2,13+datum.value),'%d/%b')"}},
"y":{"field":"y","type":"quantitative","scale":{"domain":[0,100]},"axis":{"title":"Relative humidity (%)","values":[0,20,40,60,80,100]}},
"color":{"field":"s","type":"nominal","scale":{"domain":["RU_max","RU_mean","RU_min","Montly_mean"],"range":["#b8404a","#3cb77a","#3a8cc0","#6f6f6f"]},"legend":{"title":null,"legendX":28,"legendY":114}},
"strokeDash":{"field":"s","type":"nominal","scale":{"domain":["RU_max","RU_mean","RU_min","Montly_mean"],"range":[[1,0],[1,0],[1,0],[6,3,1.5,3]]},"legend":{"title":null,"legendX":28,"legendY":114}}}}
],"spacing":51,"resolve":{"scale":{"color":"independent","strokeDash":"independent"}}},
{"hconcat":[
{"width":272,"height":148,"title":"Brasília","data":{"name":"bT"},"mark":{"type":"line"},
"encoding":{"x":{"field":"d","type":"quantitative","scale":{"domain":[0,35]},"axis":{"title":"Date","values":[0,7,14,21,28,35],"labelExpr":"timeFormat(datetime(2020,2,13+datum.value),'%d/%b')"}},
"y":{"field":"y","type":"quantitative","scale":{"domain":[0,40]},"axis":{"title":"Temperature (ºC)","values":[0,10,20,30,40]}},
"color":{"field":"s","type":"nominal","scale":{"domain":["T_max","T_mean","T_min","Montly_mean"],"range":["#b8404a","#3cb77a","#3a8cc0","#6f6f6f"]},"legend":{"title":null,"legendX":37,"legendY":107}},
"strokeDash":{"field":"s","type":"nominal","scale":{"domain":["T_max","T_mean","T_min","Montly_mean"],"range":[[1,0],[1,0],[1,0],[6,3,1.5,3]]},"legend":{"title":null,"legendX":37,"legendY":107}}}},
{"width":272,"height":148,"title":"Brasília","data":{"name":"bH"},"mark":{"type":"line"},
"encoding":{"x":{"field":"d","type":"quantitative","scale":{"domain":[0,35]},"axis":{"title":"Date","values":[0,7,14,21,28,35],"labelExpr":"timeFormat(datetime(2020,2,13+datum.value),'%d/%b')"}},
"y":{"field":"y","type":"quantitative","scale":{"domain":[0,100]},"axis":{"title":"Relative humidity (%)","values":[0,20,40,60,80,100]}},
"color":{"field":"s","type":"nominal","scale":{"domain":["RU_max","RU_mean","RU_min","Montly_mean"],"range":["#b8404a","#3cb77a","#3a8cc0","#6f6f6f"]},"legend":{"title":null,"legendX":23,"legendY":114}},
"strokeDash":{"field":"s","type":"nominal","scale":{"domain":["RU_max","RU_mean","RU_min","Montly_mean"],"range":[[1,0],[1,0],[1,0],[6,3,1.5,3]]},"legend":{"title":null,"legendX":23,"legendY":114}}}}
],"spacing":51,"resolve":{"scale":{"color":"independent","strokeDash":"independent"}}},
{"hconcat":[
{"width":272,"height":148,"title":"Rio de Janeiro","data":{"name":"rT"},"mark":{"type":"line"},
"encoding":{"x":{"field":"d","type":"quantitative","scale":{"domain":[0,35]},"axis":{"title":"Date","values":[0,7,14,21,28,35],"labelExpr":"timeFormat(datetime(2020,2,13+datum.value),'%d/%b')"}},
"y":{"field":"y","type":"quantitative","scale":{"domain":[0,40]},"axis":{"title":"Temperature (ºC)","values":[0,10,20,30,40]}},
"color":{"field":"s","type":"nominal","scale":{"domain":["T_max","T_mean","T_min","Montly_mean"],"range":["#b8404a","#3cb77a","#3a8cc0","#6f6f6f"]},"legend":{"title":null,"legendX":35,"legendY":107}},
"strokeDash":{"field":"s","type":"nominal","scale":{"domain":["T_max","T_mean","T_min","Montly_mean"],"range":[[1,0],[1,0],[1,0],[6,3,1.5,3]]},"legend":{"title":null,"legendX":35,"legendY":107}}}},
{"width":272,"height":148,"title":"Rio de Janeiro","data":{"name":"rH"},"mark":{"type":"line"},
"encoding":{"x":{"field":"d","type":"quantitative","scale":{"domain":[0,35]},"axis":{"title":"Date","values":[0,7,14,21,28,35],"labelExpr":"timeFormat(datetime(2020,2,13+datum.value),'%d/%b')"}},
"y":{"field":"y","type":"quantitative","scale":{"domain":[0,100]},"axis":{"title":"Relative humidity (%)","values":[0,20,40,60,80,100]}},
"color":{"field":"s","type":"nominal","scale":{"domain":["RU_max","RU_mean","RU_min","Montly_mean"],"range":["#b8404a","#3cb77a","#3a8cc0","#6f6f6f"]},"legend":{"title":null,"legendX":28,"legendY":114}},
"strokeDash":{"field":"s","type":"nominal","scale":{"domain":["RU_max","RU_mean","RU_min","Montly_mean"],"range":[[1,0],[1,0],[1,0],[6,3,1.5,3]]},"legend":{"title":null,"legendX":28,"legendY":114}}}}
],"spacing":51,"resolve":{"scale":{"color":"independent","strokeDash":"independent"}}},
{"hconcat":[
{"width":272,"height":148,"title":"São Paulo","data":{"name":"sT"},"mark":{"type":"line"},
"encoding":{"x":{"field":"d","type":"quantitative","scale":{"domain":[0,35]},"axis":{"title":"Date","values":[0,7,14,21,28,35],"labelExpr":"timeFormat(datetime(2020,2,13+datum.value),'%d/%b')"}},
"y":{"field":"y","type":"quantitative","scale":{"domain":[0,40]},"axis":{"title":"Temperature (ºC)","values":[0,10,20,30,40]}},
"color":{"field":"s","type":"nominal","scale":{"domain":["T_max","T_mean","T_min","Montly_mean"],"range":["#b8404a","#3cb77a","#3a8cc0","#6f6f6f"]},"legend":{"title":null,"legendX":37,"legendY":107}},
"strokeDash":{"field":"s","type":"nominal","scale":{"domain":["T_max","T_mean","T_min","Montly_mean"],"range":[[1,0],[1,0],[1,0],[6,3,1.5,3]]},"legend":{"title":null,"legendX":37,"legendY":107}}}},
{"width":272,"height":148,"title":"São Paulo","data":{"name":"sH"},"mark":{"type":"line"},
"encoding":{"x":{"field":"d","type":"quantitative","scale":{"domain":[0,35]},"axis":{"title":"Date","values":[0,7,14,21,28,35],"labelExpr":"timeFormat(datetime(2020,2,13+datum.value),'%d/%b')"}},
"y":{"field":"y","type":"quantitative","scale":{"domain":[0,100]},"axis":{"title":"Relative humidity (%)","values":[0,20,40,60,80,100]}},
"color":{"field":"s","type":"nominal","scale":{"domain":["RU_max","RU_mean","RU_min","Montly_mean"],"range":["#b8404a","#3cb77a","#3a8cc0","#6f6f6f"]},"legend":{"title":null,"legendX":24,"legendY":114}},
"strokeDash":{"field":"s","type":"nominal","scale":{"domain":["RU_max","RU_mean","RU_min","Montly_mean"],"range":[[1,0],[1,0],[1,0],[6,3,1.5,3]]},"legend":{"title":null,"legendX":24,"legendY":114}}}}
],"spacing":51,"resolve":{"scale":{"color":"independent","strokeDash":"independent"}}}
],
"config":{
"font":"Liberation Serif",
"view":{"stroke":"#555555","strokeWidth":1},
"line":{"strokeWidth":1.3},
"axis":{"labelFont":"Liberation Serif","labelFontWeight":"bold","labelFontSize":9.5,"labelColor":"#000000","titleFont":"Liberation Serif","titleFontWeight":"bold","titleFontSize":11.5,"titleColor":"#000000","ticks":false,"domain":false,"gridColor":"#e3e3e3","gridWidth":0.8,"labelFlush":false,"labelOverlap":false,"labelBound":false},
"axisX":{"labelPadding":5,"titlePadding":6},
"axisY":{"labelPadding":8,"titlePadding":4},
"title":{"font":"Liberation Serif","fontWeight":"bold","fontSize":11.5,"color":"#000000","offset":1},
"legend":{"orient":"none","direction":"horizontal","labelFont":"Liberation Serif","labelFontWeight":"bold","labelFontSize":8,"labelColor":"#000000","symbolType":"stroke","symbolStrokeWidth":1.5,"symbolSize":150,"columnPadding":0,"labelOffset":1,"padding":0}
}
}
